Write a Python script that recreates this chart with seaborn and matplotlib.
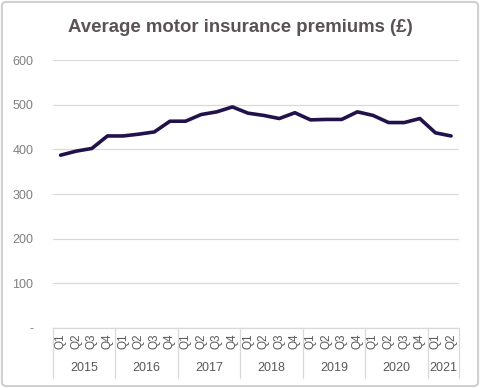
import pandas as pd
import seaborn as sns
import matplotlib.pyplot as plt
from matplotlib.patches import FancyBboxPatch
import matplotlib.transforms as mtransforms

years = ["2015", "2016", "2017", "2018", "2019", "2020", "2021"]
quarters_per_year = [4, 4, 4, 4, 4, 4, 2]
quarters = ["Q1", "Q2", "Q3", "Q4"]
premiums = [387, 396, 402, 430, 430, 434, 439, 463,
            463, 478, 484, 495, 481, 476, 469, 482,
            466, 467, 467, 484, 476, 460, 460, 469,
            437, 430]
y_ticks = [0, 100, 200, 300, 400, 500, 600]
y_labels = ["-", "100", "200", "300", "400", "500", "600"]

# one row per quarter
q_labels = []
year_of = []
for yr, n in zip(years, quarters_per_year):
    q_labels += quarters[:n]
    year_of += [yr] * n
df = pd.DataFrame({"pos": range(len(premiums)), "quarter": q_labels,
                   "year": year_of, "premium": premiums})

sns.set_style("white")
plt.rcParams["font.family"] = ["Liberation Sans", "DejaVu Sans"]

fig = plt.figure(figsize=(4.8, 3.88), dpi=100)
ax = fig.add_axes([0.110, 0.1546, 0.846, 0.6907])

sns.lineplot(data=df, x="pos", y="premium", ax=ax, color="#22124c",
             linewidth=2.6, solid_joinstyle="round", solid_capstyle="round")

ax.set_ylim(0, 600)
ax.set_xlim(-0.5, len(premiums) - 0.5)
ax.set_yticks(y_ticks)
ax.set_yticklabels(y_labels, color="#7f7f7f", fontsize=9)
ax.set_xticks(df["pos"])
ax.set_xticklabels(df["quarter"], rotation=90, color="#595959", fontsize=8.5)
ax.tick_params(axis="both", length=0)
ax.tick_params(axis="y", pad=14)
ax.tick_params(axis="x", pad=4)
ax.grid(axis="y", color="#d9d9d9", linewidth=0.9)
ax.set_axisbelow(True)
ax.set_xlabel("")
ax.set_ylabel("")
for side in ["top", "right", "left"]:
    ax.spines[side].set_visible(False)
ax.spines["bottom"].set_color("#d9d9d9")
ax.spines["bottom"].set_linewidth(0.9)

# year groups under the quarter labels
trans = mtransforms.blended_transform_factory(ax.transData, ax.transAxes)
start = -0.5
for yr, n in zip(years, quarters_per_year):
    ax.text(start + n / 2, -0.149, yr, transform=trans, ha="center",
            va="center", fontsize=9, color="#595959")
    start += n
bounds = [-0.5]
for n in quarters_per_year:
    bounds.append(bounds[-1] + n)
for b in bounds:
    ax.plot([b, b], [0, -0.185], transform=trans, color="#d9d9d9",
            linewidth=0.9, clip_on=False)

fig.text(0.5, 0.93, "Average motor insurance premiums (£)", ha="center",
         va="center", fontsize=13.4, fontweight="bold", color="#5a5256")

frame = FancyBboxPatch((0.004, 0.005), 0.992, 0.99, transform=fig.transFigure,
                       boxstyle="round,pad=0,rounding_size=0.01",
                       facecolor="none", edgecolor="#d0d0d0", linewidth=1.5)
fig.patches.append(frame)

fig.savefig("out.png", dpi=100)
